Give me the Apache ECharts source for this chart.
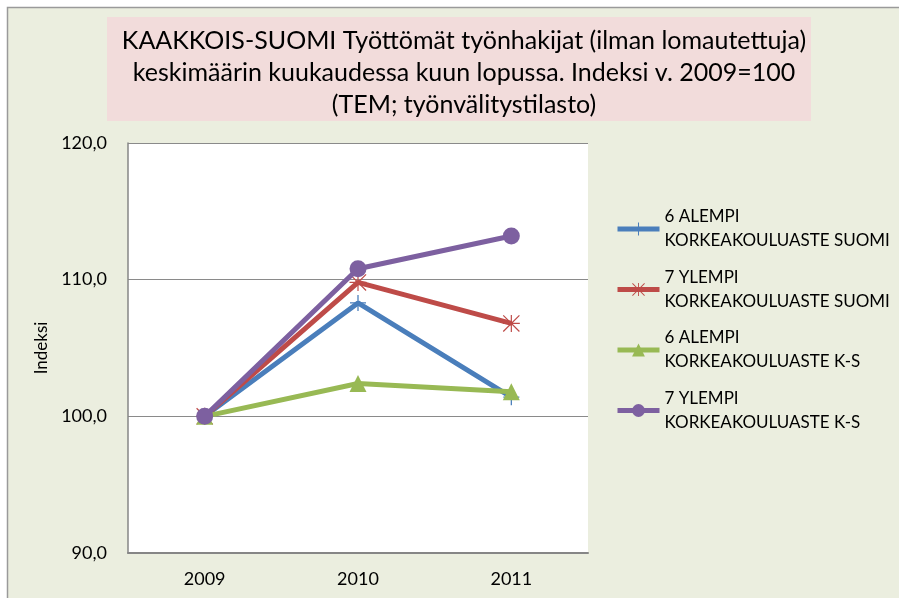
<!DOCTYPE html>
<html>
<head>
<meta charset="utf-8">
<script src="https://cdn.jsdelivr.net/npm/echarts@6/dist/echarts.min.js"></script>
<style>html,body{margin:0;padding:0;background:#fff}#c{width:899px;height:598px}</style>
</head>
<body>
<div id="c"></div>
<script>
const titleText = 'KAAKKOIS-SUOMI Työttömät työnhakijat (ilman lomautettuja)\nkeskimäärin kuukaudessa kuun lopussa. Indeksi v. 2009=100\n(TEM; työnvälitystilasto)';
const categories = ['2009', '2010', '2011'];
const yAxisName = 'Indeksi';
const seriesNames = [
  '6 ALEMPI\nKORKEAKOULUASTE SUOMI',
  '7 YLEMPI\nKORKEAKOULUASTE SUOMI',
  '6 ALEMPI\nKORKEAKOULUASTE K-S',
  '7 YLEMPI\nKORKEAKOULUASTE K-S'
];
const alempiSuomi = [100, 108.3, 101.4];
const ylempiSuomi = [100, 109.8, 106.8];
const alempiKS = [100, 102.4, 101.8];
const ylempiKS = [100, 110.8, 113.2];
const yTicks = [90, 100, 110, 120];

const colors = ['#4a7ebb', '#be4b48', '#98b954', '#7d60a0'];
const plusPath = 'path://M9.2,0 H10.8 V9.2 H20 V10.8 H10.8 V20 H9.2 V10.8 H0 V9.2 H9.2 Z';
const starPath = 'path://M9.3,0 H10.7 V20 H9.3 Z M0,1 L1,0 L20,19 L19,20 Z M19,0 L20,1 L1,20 L0,19 Z M0,9.3 H20 V10.7 H0 Z';
const symbols = [plusPath, starPath, 'triangle', 'circle'];
const sizes = [16, 17, 17, 17];
const dataSets = [alempiSuomi, ylempiSuomi, alempiKS, ylempiKS];
const FONT = 'Lato';

const chart = echarts.init(document.getElementById('c'), null, {renderer: 'canvas'});
chart.setOption({
  backgroundColor: '#ffffff',
  animation: false,
  textStyle: {fontFamily: FONT},
  graphic: [
    {type: 'rect', z: -10, shape: {x: 7.5, y: 7.5, width: 1000, height: 1000},
     style: {fill: '#ebeedf', stroke: '#9a9a9a', lineWidth: 1.5}},
    {type: 'rect', z: -9, shape: {x: 107, y: 17, width: 704, height: 104},
     style: {fill: '#f2dcdb'}}
  ],
  title: {
    text: titleText,
    left: 459,
    top: 20,
    textAlign: 'center',
    textStyle: {fontFamily: FONT, fontSize: 25, fontWeight: 'normal', color: '#000', lineHeight: 32}
  },
  grid: {left: 128, right: 311, top: 143, bottom: 45, containLabel: false,
         show: true, backgroundColor: '#ffffff', borderWidth: 0},
  legend: {
    orient: 'vertical',
    left: 615,
    top: 193,
    padding: 0,
    itemWidth: 42,
    itemHeight: 16,
    itemGap: -11.5,
    data: seriesNames,
    lineStyle: {width: 5},
    textStyle: {fontFamily: FONT, fontSize: 17, color: '#000', lineHeight: 24, padding: [24, 0, 0, 0]}
  },
  xAxis: {
    type: 'category',
    data: categories,
    boundaryGap: true,
    axisLine: {lineStyle: {color: '#868686', width: 2}},
    axisTick: {show: false},
    axisLabel: {fontFamily: FONT, fontSize: 18, color: '#000', margin: 17}
  },
  yAxis: {
    type: 'value',
    min: yTicks[0],
    max: yTicks[yTicks.length - 1],
    interval: 10,
    name: yAxisName,
    nameLocation: 'middle',
    nameGap: 76,
    nameTextStyle: {fontFamily: FONT, fontSize: 17, color: '#000'},
    axisLine: {show: true, lineStyle: {color: '#868686', width: 1.5}},
    axisTick: {show: false},
    splitLine: {show: true, lineStyle: {color: '#8a8a8a', width: 1}},
    axisLabel: {fontFamily: FONT, fontSize: 18, color: '#000', margin: 21,
                formatter: v => v.toFixed(1).replace('.', ',')}
  },
  series: dataSets.map((d, i) => ({
    name: seriesNames[i],
    type: 'line',
    data: d,
    symbol: symbols[i],
    symbolSize: sizes[i],
    showAllSymbol: true,
    lineStyle: {color: colors[i], width: 5},
    itemStyle: {color: colors[i]},
    z: 2 + i
  }))
});
</script>
</body>
</html>
